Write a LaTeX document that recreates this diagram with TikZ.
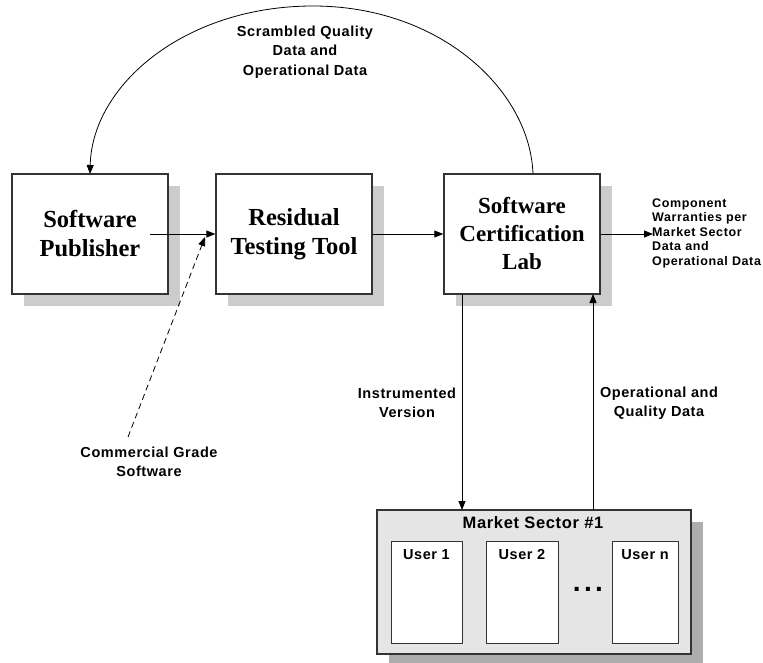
\documentclass[tikz,border=0pt]{standalone}
\usepackage{fontspec}
\setmainfont{Liberation Serif}
\setsansfont{Liberation Sans}
\usetikzlibrary{arrows.meta,shadows}
\begin{document}
\begin{tikzpicture}[x=1pt,y=-1pt,
  box/.style={draw=black!80, line width=1.3pt, fill=white, minimum width=156pt, minimum height=120pt,
    inner sep=0pt, align=center, font=\bfseries\fontsize{24.5}{29}\selectfont,
    drop shadow={shadow xshift=12pt, shadow yshift=-12pt, fill=black!20, opacity=1}},
  lbl/.style={font=\sffamily\bfseries\fontsize{14.5}{19.5}\selectfont\addfontfeature{LetterSpace=4}, align=center, inner sep=0pt},
  smalllbl/.style={font=\sffamily\bfseries\fontsize{12.5}{14.5}\selectfont\addfontfeature{LetterSpace=5}, align=left, inner sep=0pt},
  conn/.style={line width=0.8pt, -{Triangle[length=9pt,width=7pt]}},
  user/.style={draw=black!80, line width=1pt, fill=white, inner sep=0pt, minimum height=102pt},
  userlbl/.style={font=\sffamily\bfseries\fontsize{14.5}{17}\selectfont\addfontfeature{LetterSpace=4}, inner sep=0pt}]
\useasboundingbox (0,0) rectangle (763,663);

% main boxes
\node[box] (pub) at (90,234) {Software\\Publisher};
\node[box] (rtt) at (294,234) {Residual\\Testing Tool};
\node[box, font=\bfseries\fontsize{23}{28}\selectfont] (cert) at (522,234) {Software\\Certification\\Lab};

% market sector
\node[draw=black!80, line width=1.3pt, fill=black!10, minimum width=314pt, minimum height=144pt, inner sep=0pt,
  drop shadow={shadow xshift=12pt, shadow yshift=-12pt, fill=black!32, opacity=1}] (ms) at (534,582) {};
\node[font=\sffamily\bfseries\fontsize{16.5}{19}\selectfont\addfontfeature{LetterSpace=4}, inner sep=0pt] (mslbl) at (533,523) {Market Sector \#1};
\node[user, minimum width=71pt] (u1) at (426.5,592) {};
\node[user, minimum width=72pt] (u2) at (522,592) {};
\node[user, minimum width=66pt] (un) at (645,592) {};
\node[userlbl] (u1l) at (426.5,555) {User 1};
\node[userlbl] (u2l) at (522,555) {User 2};
\node[userlbl] (unl) at (645,555) {User n};
\node[font=\sffamily\bfseries\fontsize{28}{30}\selectfont\addfontfeature{LetterSpace=12}, inner sep=0pt] (dots) at (588,589) {...};

% labels
\node[lbl] (scr) at (305,52) {Scrambled Quality\\Data and\\Operational Data};
\node[smalllbl, anchor=west] (cw) at (652,233) {Component\\Warranties per\\Market Sector\\Data and\\Operational Data};
\node[lbl] (cgs) at (149,462) {Commercial Grade\\Software};
\node[lbl] (iv) at (407,403) {Instrumented\\Version};
\node[lbl] (oq) at (659,403) {Operational and\\Quality Data};

% connector points
\coordinate (pubout) at (150,234);
\coordinate (cgtail) at (128,437);
\coordinate (cgtip) at (205,237);
\coordinate (arcs) at (533,174);
\coordinate (arce) at (90,174);
\coordinate (apex) at (313,6);
\coordinate (cwin) at (653,234);
\coordinate (ivs) at (462,294);
\coordinate (ive) at (462,510);
\coordinate (oqs) at (593,510);
\coordinate (oqe) at (593,294);

% connectors
\draw[conn] (pubout) -- (rtt.west);
\draw[conn] (rtt.east) -- (cert.west);
\draw[conn] (cert.east) -- (cwin);
\draw[conn, dash pattern=on 6pt off 4pt] (cgtail) -- (cgtip);
\draw[conn] (arcs) .. controls (530,90) and (440,6) .. (apex) .. controls (185,6) and (92,85) .. (arce);
\draw[conn] (ivs) -- (ive);
\draw[conn] (oqs) -- (oqe);
\end{tikzpicture}
\end{document}
